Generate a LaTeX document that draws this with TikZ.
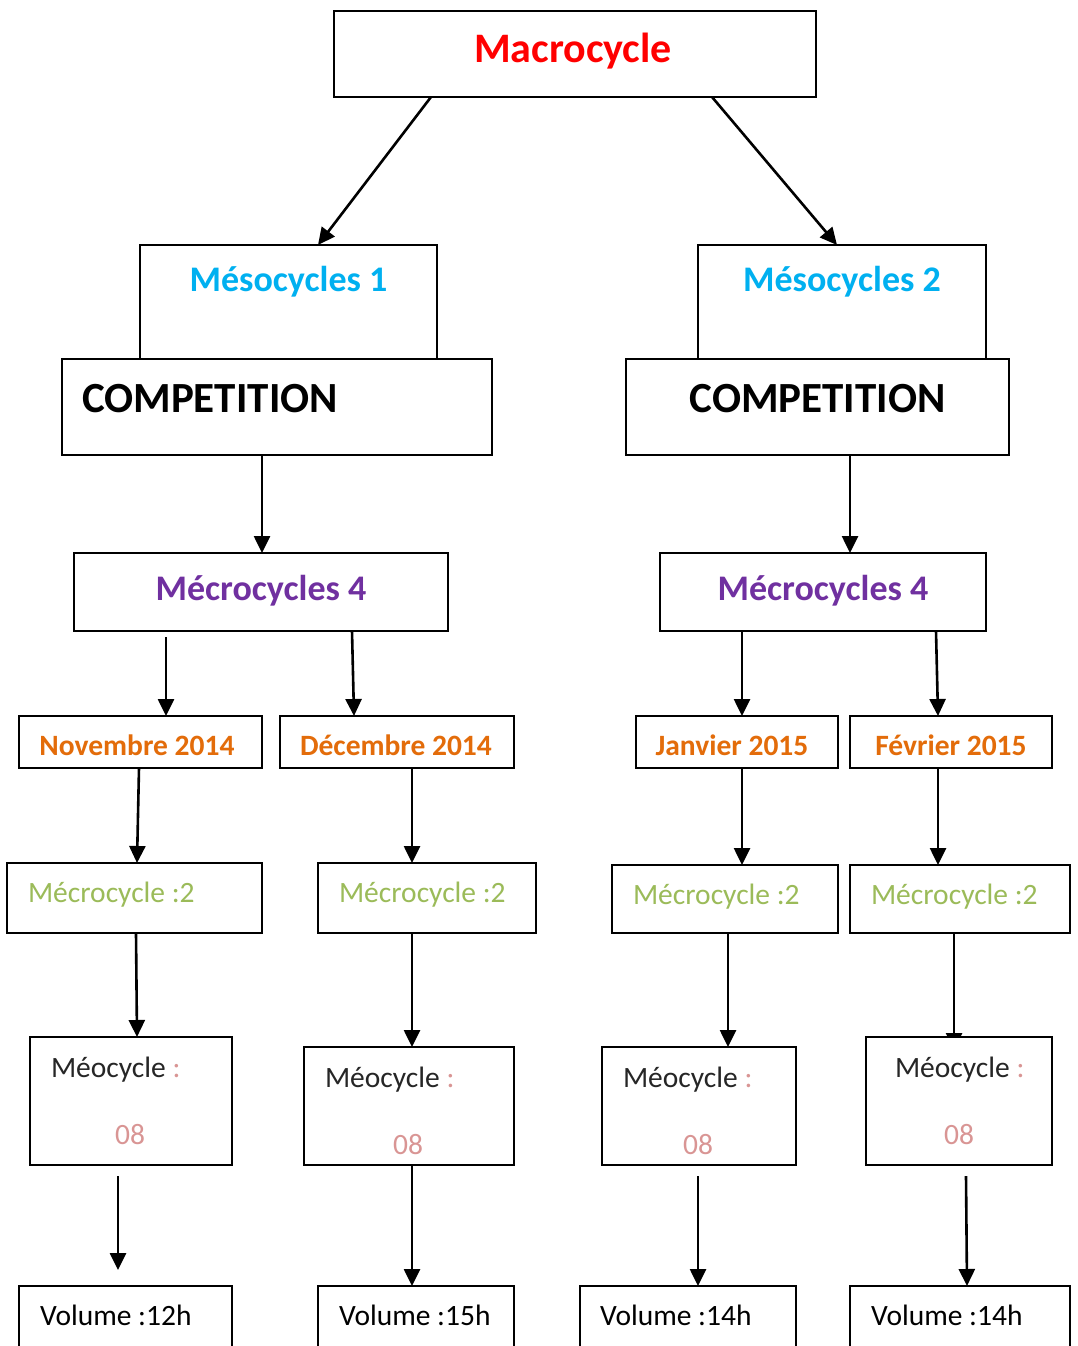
\documentclass[tikz,border=0pt]{standalone}
\usepackage{fontspec}
\setmainfont{Carlito}
\usetikzlibrary{arrows.meta}
\definecolor{cred}{HTML}{FF0000}
\definecolor{ccyan}{HTML}{00B0F0}
\definecolor{cpurple}{HTML}{7030A0}
\definecolor{corange}{HTML}{E36C0A}
\definecolor{cgreen}{HTML}{9BBB59}
\definecolor{cpink}{HTML}{D99594}
\definecolor{cdark}{HTML}{262626}
\pgfdeclarelayer{back}
\pgfdeclarelayer{bg}
\pgfsetlayers{back,bg,main}
\tikzset{
  box/.style={draw=black, line width=2pt, fill=white, rectangle, inner sep=0pt, outer sep=0pt, anchor=north west},
  arr/.style={draw=black, line width=2.6pt, -{Triangle[length=17pt,width=16pt]}},
  txt/.style={inner sep=0pt, outer sep=0pt},
  big/.style={font=\fontsize{42}{50}\selectfont\bfseries},
  meso/.style={font=\fontsize{36}{42}\selectfont\bfseries, text=ccyan},
  comp/.style={font=\fontsize{43}{50}\selectfont\bfseries, text=black},
  mec/.style={font=\fontsize{36}{42}\selectfont\bfseries, text=cpurple},
  month/.style={font=\fontsize{29.5}{35}\selectfont\bfseries, text=corange},
  mc/.style={font=\fontsize{29.5}{35}\selectfont, text=cgreen},
  meo/.style={font=\fontsize{29.5}{35}\selectfont, text=cdark},
  num/.style={font=\fontsize{29.5}{35}\selectfont, text=cpink},
  vol/.style={font=\fontsize{29.5}{35}\selectfont, text=black}
}
\begin{document}
\begin{tikzpicture}[x=1pt,y=-1pt]
\useasboundingbox (0,0) rectangle (1078,1346);
\begin{pgfonlayer}{back}
\fill[white] (0,0) rectangle (1078,1346);
\end{pgfonlayer}
\clip (0,0) rectangle (1078,1346);

% top
\node[box, minimum width=482pt, minimum height=86pt] (macro) at (334,11) {};
\node[txt, big, text=cred, anchor=base] (macroT) at (573,63) {Macrocycle};

% mesocycles
\node[box, minimum width=297pt, minimum height=114pt] (meso1) at (140,245) {};
\node[txt, meso, anchor=base] (meso1T) at (288.5,291) {Mésocycles 1};
\node[box, minimum width=288pt, minimum height=114pt] (meso2) at (698,245) {};
\node[txt, meso, anchor=base] (meso2T) at (842,291) {Mésocycles 2};

\node[box, minimum width=430pt, minimum height=96pt] (comp1) at (62,359) {};
\node[txt, comp, anchor=base west] (comp1T) at (82,412) {COMPETITION};
\node[box, minimum width=383pt, minimum height=96pt] (comp2) at (626,359) {};
\node[txt, comp, anchor=base] (comp2T) at (817.5,412) {COMPETITION};

% mecrocycles 4
\node[box, minimum width=374pt, minimum height=78pt] (mecL) at (74,553) {};
\node[txt, mec, anchor=base] (mecLT) at (261,600) {Mécrocycles 4};
\node[box, minimum width=326pt, minimum height=78pt] (mecR) at (660,553) {};
\node[txt, mec, anchor=base] (mecRT) at (823,600) {Mécrocycles 4};

% months
\node[box, minimum width=243pt, minimum height=52pt] (nov) at (19,716) {};
\node[txt, month, anchor=base] (novT) at (137,755) {Novembre 2014};
\node[box, minimum width=234pt, minimum height=52pt] (dec) at (280,716) {};
\node[txt, month, anchor=base] (decT) at (396,755) {Décembre 2014};
\node[box, minimum width=202pt, minimum height=52pt] (jan) at (636,716) {};
\node[txt, month, anchor=base] (janT) at (732,755) {Janvier 2015};
\node[box, minimum width=202pt, minimum height=52pt] (feb) at (850,716) {};
\node[txt, month, anchor=base] (febT) at (951,755) {Février 2015};

% mecrocycle :2
\node[box, minimum width=255pt, minimum height=70pt] (mca) at (7,863) {};
\node[txt, mc, anchor=base west] (mcaT) at (28,902) {Mécrocycle :2};
\node[box, minimum width=218pt, minimum height=70pt] (mcb) at (318,863) {};
\node[txt, mc, anchor=base west] (mcbT) at (339,902) {Mécrocycle :2};
\node[box, minimum width=226pt, minimum height=68pt] (mcc) at (612,865) {};
\node[txt, mc, anchor=base west] (mccT) at (633,904) {Mécrocycle :2};
\node[box, minimum width=220pt, minimum height=68pt] (mcd) at (850,865) {};
\node[txt, mc, anchor=base west] (mcdT) at (871,904) {Mécrocycle :2};

% meocycle
\node[box, minimum width=202pt, minimum height=128pt] (meo1) at (30,1037) {};
\node[txt, meo, anchor=base west] (meo1T) at (51,1077) {Méocycle {\color{cpink}:}};
\node[txt, num, anchor=base] (meo1N) at (130,1144) {08};
\node[box, minimum width=210pt, minimum height=118pt] (meo2) at (304,1047) {};
\node[txt, meo, anchor=base west] (meo2T) at (325,1087) {Méocycle {\color{cpink}:}};
\node[txt, num, anchor=base] (meo2N) at (408,1154) {08};
\node[box, minimum width=194pt, minimum height=118pt] (meo3) at (602,1047) {};
\node[txt, meo, anchor=base west] (meo3T) at (623,1087) {Méocycle {\color{cpink}:}};
\node[txt, num, anchor=base] (meo3N) at (698,1154) {08};
\node[box, minimum width=186pt, minimum height=128pt] (meo4) at (866,1037) {};
\node[txt, meo, anchor=base west] (meo4T) at (895,1077) {Méocycle {\color{cpink}:}};
\node[txt, num, anchor=base] (meo4N) at (959,1144) {08};

% volume
\node[box, minimum width=213pt, minimum height=90pt] (vol1) at (19,1286) {};
\node[txt, vol, anchor=base west] (vol1T) at (40,1325) {Volume :12h};
\node[box, minimum width=196pt, minimum height=90pt] (vol2) at (318,1286) {};
\node[txt, vol, anchor=base west] (vol2T) at (339,1325) {Volume :15h};
\node[box, minimum width=216pt, minimum height=90pt] (vol3) at (580,1286) {};
\node[txt, vol, anchor=base west] (vol3T) at (600,1325) {Volume :14h};
\node[box, minimum width=220pt, minimum height=90pt] (vol4) at (850,1286) {};
\node[txt, vol, anchor=base west] (vol4T) at (871,1325) {Volume :14h};

\coordinate (free1) at ([xshift=99pt,yshift=16pt]vol1.north west);

% connectors
\draw[arr] ([xshift=97pt]macro.south west) -- ([xshift=178pt]meso1.north west);
\draw[arr] ([xshift=-104pt]macro.south east) -- ([xshift=139pt]meso2.north west);
\draw[arr] ([xshift=200pt]comp1.south west) -- ([xshift=188pt]mecL.north west);
\draw[arr] ([xshift=224pt]comp2.south west) -- ([xshift=190pt]mecR.north west);

\draw[arr] ([xshift=92pt,yshift=-6pt]mecL.south west) -- ([xshift=147pt]nov.north west);
\draw[arr] ([xshift=278pt]mecL.south west) -- ([xshift=74pt]dec.north west);
\draw[arr] ([xshift=82pt]mecR.south west) -- ([xshift=106pt]jan.north west);
\draw[arr] ([xshift=276pt]mecR.south west) -- ([xshift=88pt]feb.north west);

\draw[arr] ([xshift=120pt]nov.south west) -- ([xshift=130pt]mca.north west);
\draw[arr] ([xshift=132pt]dec.south west) -- ([xshift=94pt]mcb.north west);
\draw[arr] ([xshift=106pt]jan.south west) -- ([xshift=130pt]mcc.north west);
\draw[arr] ([xshift=88pt]feb.south west) -- ([xshift=88pt]mcd.north west);

\draw[arr] ([xshift=129pt]mca.south west) -- ([xshift=107pt]meo1.north west);
\draw[arr] ([xshift=94pt]mcb.south west) -- ([xshift=108pt]meo2.north west);
\draw[arr] ([xshift=116pt]mcc.south west) -- ([xshift=126pt]meo3.north west);
\begin{pgfonlayer}{bg}
\draw[arr] ([xshift=104pt]mcd.south west) -- ([xshift=88pt,yshift=-13pt]meo4.north west);
\end{pgfonlayer}

\draw[arr] ([xshift=88pt,yshift=-11pt]meo1.south west) -- (free1);
\draw[arr] ([xshift=108pt]meo2.south west) -- ([xshift=94pt]vol2.north west);
\draw[arr] ([xshift=96pt,yshift=-11pt]meo3.south west) -- ([xshift=118pt]vol3.north west);
\draw[arr] ([xshift=100pt,yshift=-11pt]meo4.south west) -- ([xshift=117pt]vol4.north west);
\end{tikzpicture}
\end{document}
